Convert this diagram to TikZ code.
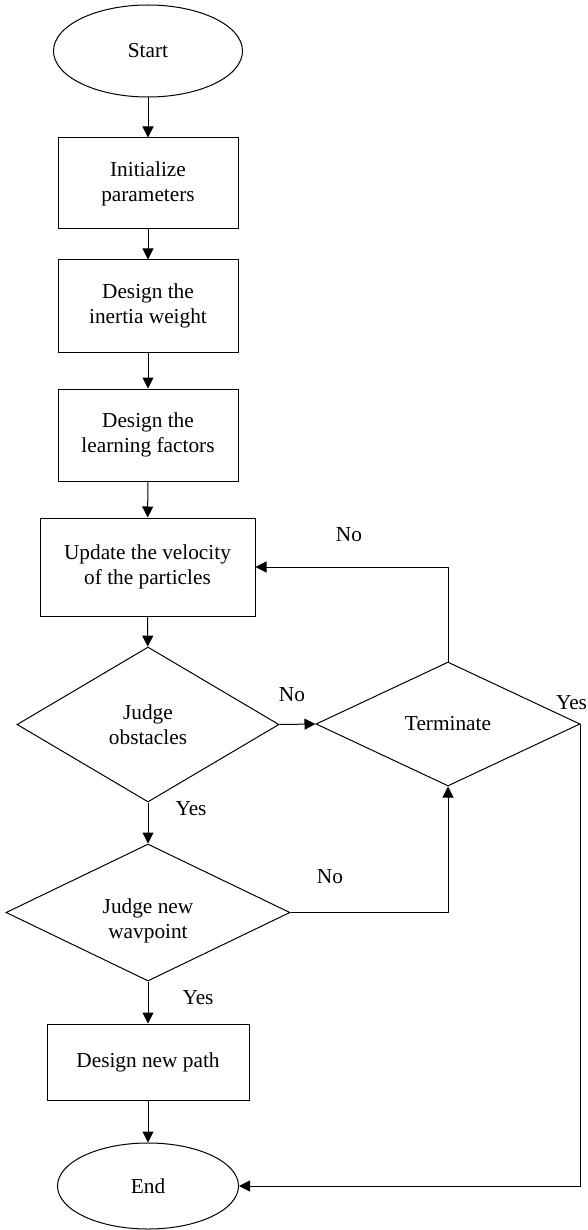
\documentclass[tikz,border=0pt]{standalone}
\usepackage{fontspec}
\setmainfont{Liberation Serif}
\usetikzlibrary{shapes.geometric,arrows.meta}

\begin{document}
\begin{tikzpicture}[
  x=1pt, y=-1pt,
  every node/.style={font=\fontsize{21.3}{25}\selectfont, align=center},
  base/.style={draw, line width=1pt, inner sep=0pt},
  terminal/.style={base, ellipse},
  process/.style={base, rectangle},
  decision/.style={base, diamond},
  arr/.style={line width=1pt, -{Triangle[length=11pt,width=11pt]}},
  lbl/.style={inner sep=0pt}
]
\useasboundingbox (0,0) rectangle (587,1230);

% main column
\node[terminal, minimum width=189pt, minimum height=92pt] (start) at (148,51) {Start};
\node[process, minimum width=180pt, minimum height=91pt] (init) at (148,183.5) {Initialize\\parameters};
\node[process, minimum width=180pt, minimum height=92pt] (inertia) at (148,306) {Design the\\inertia weight};
\node[process, minimum width=180pt, minimum height=92pt] (learn) at (148,435) {Design the\\learning factors};
\node[process, minimum width=215pt, minimum height=98pt] (update) at (147.5,567) {Update the velocity\\of the particles};
\node[decision, minimum width=262pt, minimum height=155pt] (obs) at (148,724.5) {Judge\\obstacles};
\node[decision, minimum width=264pt, minimum height=124pt] (term) at (448,724) {Terminate};
\node[decision, minimum width=284pt, minimum height=137pt,
      label={[yshift=-8pt]center:{Judge new\\wavpoint}}] (wp) at (148,912.5) {};
\node[process, minimum width=202pt, minimum height=76pt] (path) at (148,1062) {Design new path};
\node[terminal, minimum width=181pt, minimum height=86pt] (end) at (148,1186) {End};

% straight flow
\draw[arr] (start) -- (init);
\draw[arr] (init) -- (inertia);
\draw[arr] (inertia) -- (learn);
\draw[arr] (learn) -- (update);
\draw[arr] (update) -- (obs);
\draw[arr] (obs) -- (wp);
\draw[arr] (wp) -- (path);
\draw[arr] (path) -- (end);

% branches
\draw[arr] (obs.east) -- (term.west);
\draw[arr] (term.north) |- (update.east);
\draw[arr] (wp.east) -| (term.south);
\draw[arr] (term.east) |- (end.east);

% branch labels
\node[lbl] (noUpd) at (349,535) {No};
\node[lbl] (noObs) at (292,695) {No};
\node[lbl] (noWp) at (330,877) {No};
\node[lbl] (yesTerm) at (571.5,703) {Yes};
\node[lbl] (yesObs) at (191,809) {Yes};
\node[lbl] (yesWp) at (198,998) {Yes};
\end{tikzpicture}
\end{document}
